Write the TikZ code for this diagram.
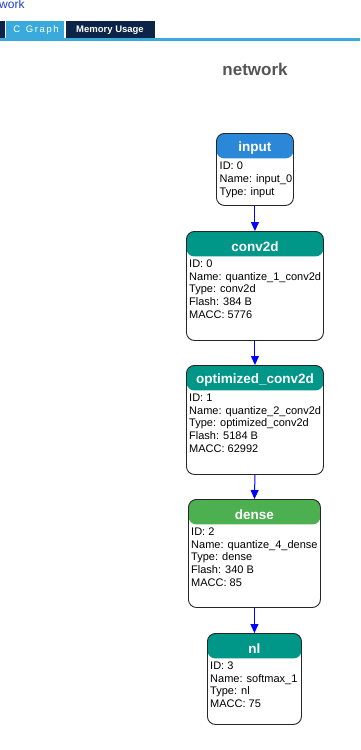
\documentclass[tikz,border=0pt]{standalone}
\usepackage{fontspec}
\setmainfont{Liberation Sans}
\usetikzlibrary{arrows.meta}
\definecolor{hblue}{HTML}{2B88D8}
\definecolor{hteal}{HTML}{009688}
\definecolor{hgreen}{HTML}{4CAF50}
\definecolor{tabl}{HTML}{3AAADC}
\definecolor{tabd}{HTML}{0B2447}
\definecolor{ttl}{HTML}{555555}
\definecolor{arr}{HTML}{0000FF}
\definecolor{lnk}{HTML}{1A3FC8}
\tikzset{
  opbox/.style={draw=black!85, line width=0.9pt, rounded corners=8pt, fill=white, inner sep=0pt, anchor=north west},
  hdr/.style={path picture={\fill[#1] (path picture bounding box.north west) rectangle ([yshift=-25pt]path picture bounding box.north east);}},
  optitle/.style={font=\fontsize{13.5}{15}\selectfont\bfseries, text=white, inner sep=0pt},
  opbody/.style={font=\fontsize{11}{12.8}\selectfont, align=left, anchor=north west, inner sep=0pt},
  flow/.style={draw=arr, line width=1pt, -{Triangle[length=9pt,width=8pt]}},
  tab/.style={font=\fontsize{9.5}{11}\selectfont, text=white, inner sep=0pt}
}
\begin{document}
\begin{tikzpicture}[x=1pt,y=-1pt]
\fill[white] (0,0) rectangle (360,750);
\useasboundingbox (0,0) rectangle (360,750);
\node[font=\fontsize{12}{14}\selectfont, text=lnk, anchor=base west, inner sep=0pt] (pg) at (-1,8) {work};
% tabs
\fill[tabd] (0,21) rectangle (5,38);
\fill[tabl] (6,21) rectangle (64,38);
\fill[tabd] (66,21) rectangle (155,38);
\fill[tabl] (0,38) rectangle (360,41);
\node[tab] (t1) at (36,30) {C\,\, G\,r\,a\,p\,h};
\node[tab, font=\fontsize{9.5}{11}\selectfont\bfseries] (t2) at (110,30) {Memory Usage};
% title
\node[font=\fontsize{17}{20}\selectfont\bfseries, text=ttl, inner sep=0pt] (title) at (255,69) {network};
% boxes
\node[opbox, hdr=hblue, minimum width=77pt, minimum height=72pt] (input) at (216,133) {};
\node[opbox, hdr=hteal, minimum width=137pt, minimum height=109pt] (conv) at (186,231) {};
\node[opbox, hdr=hteal, minimum width=137pt, minimum height=109pt] (opt) at (186,365) {};
\node[opbox, hdr=hgreen, minimum width=132pt, minimum height=108pt] (dense) at (188,499) {};
\node[opbox, hdr=hteal, minimum width=94pt, minimum height=91pt] (nl) at (207,633) {};
% titles
\node[optitle] (inputT) at ([yshift=-15.5pt]input.north) {input};
\node[optitle] (convT) at ([yshift=-15.5pt]conv.north) {conv2d};
\node[optitle] (optT) at ([yshift=-15.5pt]opt.north) {optimized\_conv2d};
\node[optitle] (denseT) at ([yshift=-15.5pt]dense.north) {dense};
\node[optitle] (nlT) at ([yshift=-15.5pt]nl.north) {nl};
% bodies
\node[opbody] (inputB) at ([xshift=3.5pt,yshift=-29pt]input.north west) {ID: 0\\Name: input\_0\\Type: input};
\node[opbody] (convB) at ([xshift=3pt,yshift=-28.5pt]conv.north west) {ID: 0\\Name: quantize\_1\_conv2d\\Type: conv2d\\Flash: 384 B\\MACC: 5776};
\node[opbody] (optB) at ([xshift=3pt,yshift=-28.5pt]opt.north west) {ID: 1\\Name: quantize\_2\_conv2d\\Type: optimized\_conv2d\\Flash: 5184 B\\MACC: 62992};
\node[opbody] (denseB) at ([xshift=3pt,yshift=-28.5pt]dense.north west) {ID: 2\\Name: quantize\_4\_dense\\Type: dense\\Flash: 340 B\\MACC: 85};
\node[opbody] (nlB) at ([xshift=3pt,yshift=-28.5pt]nl.north west) {ID: 3\\Name: softmax\_1\\Type: nl\\MACC: 75};
% connectors
\draw[flow] (input.south) -- (conv.north);
\draw[flow] (conv.south) -- (opt.north);
\draw[flow] (opt.south) -- (dense.north);
\draw[flow] (dense.south) -- (nl.north);
\end{tikzpicture}
\end{document}
